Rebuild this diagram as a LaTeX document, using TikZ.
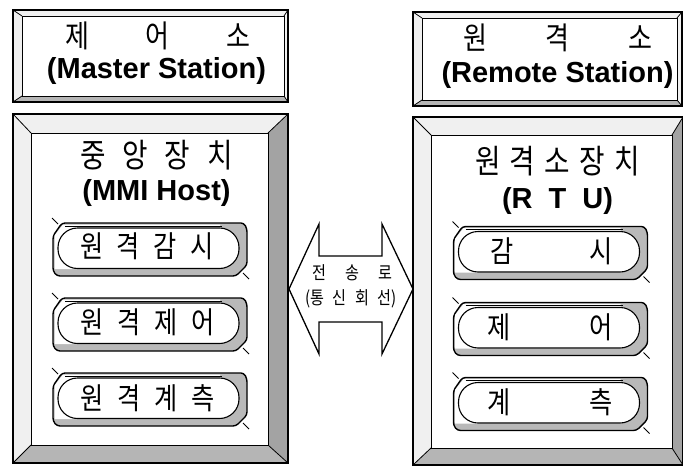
\documentclass[tikz,border=0pt]{standalone}
\usepackage{fontspec}
\setmainfont{Liberation Sans}
\newfontfamily\kr[FakeStretch=0.84]{Noto Sans CJK KR}
\newcommand\bevelbox[9]{%
  \fill[lightbevel] (#1,#2) -- (#3,#2) -- (#7,#6) -- (#5,#6) -- cycle;
  \fill[lightbevel] (#1,#2) -- (#5,#6) -- (#5,#8) -- (#1,#4) -- cycle;
  \fill[#9] (#3,#2) -- (#3,#4) -- (#7,#8) -- (#7,#6) -- cycle;
  \fill[botbevel] (#1,#4) -- (#3,#4) -- (#7,#8) -- (#5,#8) -- cycle;
  \draw[line width=0.9] (#5,#6) rectangle (#7,#8);
  \draw[line width=0.8] (#1,#2) -- (#5,#6) (#3,#2) -- (#7,#6) (#1,#4) -- (#5,#8) (#3,#4) -- (#7,#8);
  \draw[line width=2] (#1,#2) rectangle (#3,#4);
}
\tikzset{
  lightbevel/.style={fill=gray!12},
  darkbevel/.style={fill=gray!72},
  botbevel/.style={fill=gray!58},
  krtitle/.style={font=\kr\fontsize{31}{31}\selectfont, inner sep=0pt},
  krhead/.style={font=\kr\fontsize{33}{33}\selectfont, inner sep=0pt},
  krbtn/.style={font=\kr\fontsize{30}{30}\selectfont, inner sep=0pt},
  krsmall/.style={font=\kr\fontsize{18}{18}\selectfont, inner sep=0pt},
  entitle/.style={font=\bfseries\fontsize{29}{29}\selectfont, inner sep=0pt, anchor=base},
  btn/.pic={
    \path[fill=gray!55, draw=black, line width=1.4, rounded corners=3]
      (-88,-26) -- (94,-26) -- (97,-20) -- (97,16) -- (86,27) -- (-93,27) -- (-97,22) -- (-97,-13) -- cycle;
    \fill[white] (-87,-24.5) -- (70,-24.5) -- (70,20) -- (-95.5,20) -- (-95.5,-13.5) -- cycle;
    \draw[line width=0.5] (-85,-23.2) -- (72,-23.2);
    \draw[fill=white, line width=1.1, rounded corners=19.5] (-92,-21) rectangle (89,19.5);
    \draw[line width=0.9] (-98,-31) -- (-92,-25);
    \draw[line width=0.9] (93,24) -- (99,30);
  }
}
\begin{document}
\begin{tikzpicture}[x=1pt,y=-1pt]
\useasboundingbox (0,0) rectangle (683,466);
\fill[white] (0,0) rectangle (683,466);

% top title boxes
\bevelbox{13}{10}{288}{102}{22}{16}{284}{96}{lightbevel}
\bevelbox{413}{12}{682}{106}{422}{18}{677}{100}{lightbevel}

% main boxes
\bevelbox{13}{114}{288}{463}{31}{133}{268}{445}{darkbevel}
\bevelbox{413}{117}{683}{465}{431}{135}{672}{448}{darkbevel}

% titles
\node[krtitle] (tlk) at (157.5,36) {\makebox[185pt][s]{제\hfill 어\hfill 소}};
\node[entitle] (tle) at (156.5,78) {(Master Station)};
\node[krtitle] (trk) at (557.5,37.5) {\makebox[189pt][s]{원\hfill 격\hfill 소}};
\node[entitle] (tre) at (557.5,82) {(Remote Station)};

% headings
\node[krhead] (hlk) at (156.5,155) {\makebox[153pt][s]{중\hfill 앙\hfill 장\hfill 치}};
\node[entitle] (hle) at (156.5,200) {(MMI Host)};
\node[krhead] (hrk) at (557.5,161) {\makebox[165pt][s]{원\hfill 격\hfill 소\hfill 장\hfill 치}};
\node[entitle] (hre) at (557.5,208) {\makebox[111pt][s]{(R\hfill T\hfill U)}};

% left buttons
\pic at (150,249) {btn};
\pic at (150,324) {btn};
\pic at (150,399) {btn};
\node[krbtn] (lb1) at (147,246.5) {\makebox[134pt][s]{원\hfill 격\hfill 감\hfill 시}};
\node[krbtn] (lb2) at (147.5,322.5) {\makebox[135pt][s]{원\hfill 격\hfill 제\hfill 어}};
\node[krbtn] (lb3) at (147.5,398) {\makebox[135pt][s]{원\hfill 격\hfill 계\hfill 측}};

% right buttons
\pic at (550.5,252.5) {btn};
\pic at (550.5,328.5) {btn};
\pic at (550.5,403.5) {btn};
\node[krbtn] (rb1) at (551.5,251) {\makebox[123pt][s]{감\hfill 시}};
\node[krbtn] (rb2) at (550,327) {\makebox[126pt][s]{제\hfill 어}};
\node[krbtn] (rb3) at (550,402) {\makebox[126pt][s]{계\hfill 측}};

% double arrow (transmission line)
\draw[line width=1.3, fill=white, line join=miter]
  (289,289) -- (319,224) -- (319,256) -- (382,256) -- (382,224) -- (413,289)
  -- (382,354) -- (382,322) -- (319,322) -- (319,354) -- cycle;
\node[krsmall] (a1) at (352,273) {\makebox[80pt][s]{전\hfill 송\hfill 로}};
\node[krsmall] (a2) at (351,299) {\makebox[92pt][s]{(통\hfill 신\hfill 회\hfill 선)}};
\end{tikzpicture}
\end{document}
